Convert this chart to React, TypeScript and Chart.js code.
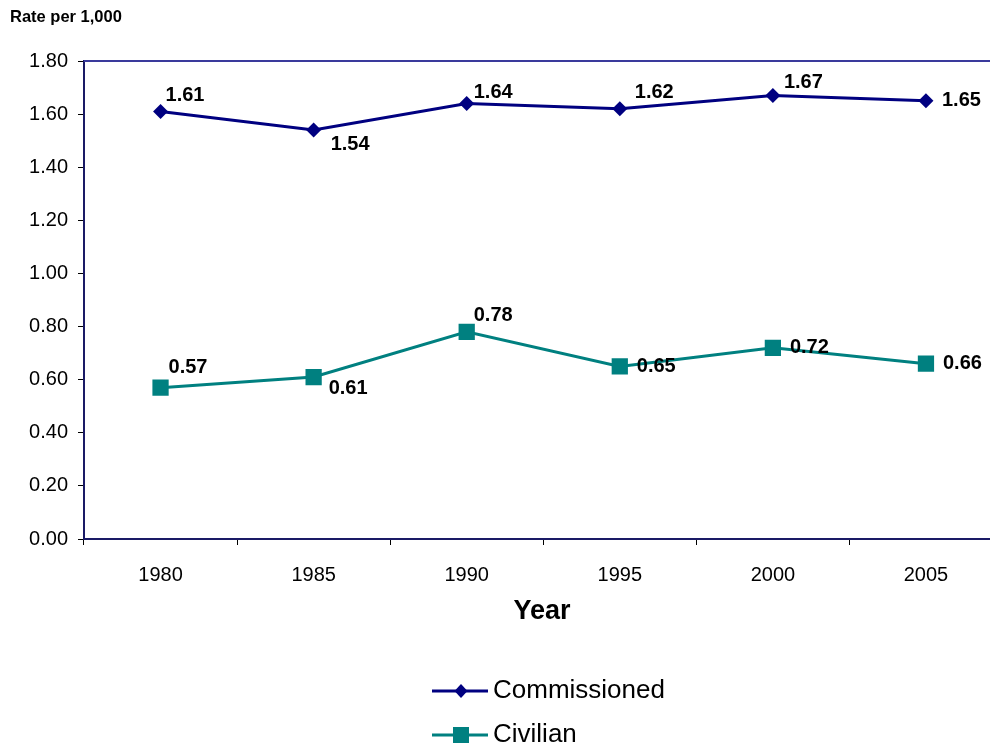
import React, { useEffect, useRef } from "react";
import { Chart, registerables } from "chart.js";

Chart.register(...registerables);

const years = ["1980", "1985", "1990", "1995", "2000", "2005"];
const commissioned = [1.61, 1.54, 1.64, 1.62, 1.67, 1.65];
const civilian = [0.57, 0.61, 0.78, 0.65, 0.72, 0.66];
const yTickMin = 0;
const yTickMax = 1.8;
const yTickStep = 0.2;

const NAVY = "#000080";
const TEAL = "#008080";
const FONT = "'Liberation Sans', Arial, sans-serif";

// label offsets (style only)
const commOffsets = [[5, -16], [17, 14], [7, -11], [15, -16], [11, -13], [16, 0]];
const civOffsets = [[8, -20], [15, 11], [7, -16], [17, 0], [17, 0], [17, 0]];

const decorPlugin = {
  id: "decor",
  afterDatasetsDraw(chart: any) {
    const ctx = chart.ctx;
    const area = chart.chartArea;
    ctx.save();
    ctx.strokeStyle = "#3a3a9c";
    ctx.lineWidth = 2;
    ctx.beginPath();
    ctx.moveTo(area.left, area.top);
    ctx.lineTo(area.right, area.top);
    ctx.stroke();

    ctx.fillStyle = "#000";
    ctx.font = `bold 20px ${FONT}`;
    ctx.textAlign = "left";
    ctx.textBaseline = "middle";
    const offs = [commOffsets, civOffsets];
    chart.data.datasets.forEach((ds: any, di: number) => {
      const meta = chart.getDatasetMeta(di);
      meta.data.forEach((pt: any, i: number) => {
        const o = offs[di][i];
        ctx.fillText(ds.data[i].toFixed(2), pt.x + o[0], pt.y + o[1]);
      });
    });

    ctx.font = `bold 16.5px ${FONT}`;
    ctx.fillText("Rate per 1,000", 10, 17);

    ctx.font = `bold 27px ${FONT}`;
    ctx.textAlign = "center";
    ctx.fillText("Year", 542, 612);

    const rows = [
      { label: chart.data.datasets[0].label, color: NAVY, shape: "diamond", y: 691 },
      { label: chart.data.datasets[1].label, color: TEAL, shape: "square", y: 735 },
    ];
    rows.forEach((r) => {
      ctx.strokeStyle = r.color;
      ctx.fillStyle = r.color;
      ctx.lineWidth = 3;
      ctx.beginPath();
      ctx.moveTo(432, r.y);
      ctx.lineTo(488, r.y);
      ctx.stroke();
      const cx = 461;
      ctx.beginPath();
      if (r.shape === "diamond") {
        ctx.moveTo(cx, r.y - 7);
        ctx.lineTo(cx + 6.5, r.y);
        ctx.lineTo(cx, r.y + 7);
        ctx.lineTo(cx - 6.5, r.y);
        ctx.closePath();
      } else {
        ctx.rect(cx - 8, r.y - 8, 16, 16);
      }
      ctx.fill();
      ctx.fillStyle = "#000";
      ctx.font = `26px ${FONT}`;
      ctx.textAlign = "left";
      ctx.textBaseline = "middle";
      ctx.fillText(r.label, 493, r.y);
    });
    ctx.restore();
  },
};

export default function App() {
  const ref = useRef<HTMLCanvasElement | null>(null);
  useEffect(() => {
    if (!ref.current) return;
    const chart = new Chart(ref.current, {
      type: "line",
      data: {
        labels: years,
        datasets: [
          {
            label: "Commissioned",
            data: commissioned,
            borderColor: NAVY,
            backgroundColor: NAVY,
            borderWidth: 3,
            pointStyle: "rectRot",
            pointRadius: 7.5,
            pointBorderWidth: 0,
            tension: 0,
          },
          {
            label: "Civilian",
            data: civilian,
            borderColor: TEAL,
            backgroundColor: TEAL,
            borderWidth: 3,
            pointStyle: "rect",
            pointRadius: 11.5,
            pointBorderWidth: 0,
            tension: 0,
          },
        ],
      },
      options: {
        responsive: false,
        animation: false,
        devicePixelRatio: 1,
        layout: { padding: { left: 0, right: 0, top: 61, bottom: 0 } },
        plugins: { legend: { display: false }, tooltip: { enabled: false }, title: { display: false } },
        scales: {
          x: {
            type: "category",
            offset: true,
            grid: {
              offset: true,
              drawOnChartArea: false,
              drawTicks: true,
              tickLength: 6,
              color: "#000",
              lineWidth: 1,
            },
            border: { display: true, color: "#1a1a66", width: 2 },
            ticks: { color: "#000", font: { family: FONT, size: 20 }, padding: 18, maxRotation: 0 },
            afterFit(scale: any) {
              scale.height = 211;
            },
          },
          y: {
            min: yTickMin,
            max: yTickMax,
            grid: {
              drawOnChartArea: false,
              drawTicks: true,
              tickLength: 6,
              color: "#000",
              lineWidth: 1,
            },
            border: { display: true, color: "#1a1a66", width: 2 },
            ticks: {
              stepSize: yTickStep,
              color: "#000",
              font: { family: FONT, size: 20 },
              padding: 10,
              callback: (v: any) => Number(v).toFixed(2),
            },
            afterFit(scale: any) {
              scale.width = 84;
            },
          },
        },
      },
      plugins: [decorPlugin],
    } as any);
    return () => chart.destroy();
  }, []);
  return (
    <div style={{ position: "fixed", left: 0, top: 0, width: 990, height: 750, overflow: "hidden", background: "#fff" }}>
      <canvas ref={ref} width={1014} height={750} style={{ width: 1014, height: 750, display: "block" }} />
    </div>
  );
}
